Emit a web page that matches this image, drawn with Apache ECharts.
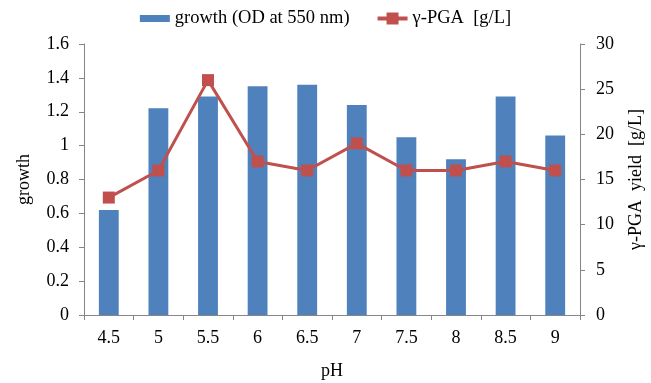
<!DOCTYPE html>
<html>
<head>
<meta charset="utf-8">
<script src="https://cdn.jsdelivr.net/npm/echarts@6/dist/echarts.min.js"></script>
<style>
  html, body { margin: 0; padding: 0; background: #fff; }
  #chart { width: 651px; height: 383px; }
</style>
</head>
<body>
<div id="chart"></div>
<script>
// pH values tested
const phLevels = ['4.5', '5', '5.5', '6', '6.5', '7', '7.5', '8', '8.5', '9'];
// cell growth, OD at 550 nm (left axis)
const growthOD = [0.62, 1.22, 1.29, 1.35, 1.36, 1.24, 1.05, 0.92, 1.29, 1.06];
// γ-PGA yield in g/L (right axis)
const pgaYield = [13, 16, 26, 17, 16, 19, 16, 16, 17, 16];

const FONT = '"Liberation Serif", "Times New Roman", serif';
const AXIS_GRAY = '#868686';
const TEXT = { fontFamily: FONT, fontSize: 18, color: '#000' };

const chart = echarts.init(document.getElementById('chart'), null, { renderer: 'canvas' });

chart.setOption({
  backgroundColor: '#fff',
  animation: false,
  legend: {
    top: 4,
    left: 'center',
    itemWidth: 30,
    itemHeight: 15,
    itemGap: 26,
    textStyle: { fontFamily: FONT, fontSize: 18.5, color: '#000' },
    data: [
      // thin bar swatch inside a taller box
      { name: 'growth (OD at 550 nm)', icon: 'path://M0,0M0,4h30v7h-30zM30,15' },
      { name: 'γ-PGA  [g/L]', lineStyle: { width: 4 } }
    ]
  },
  grid: { left: 84, right: 71, top: 44, bottom: 68, outerBoundsMode: 'none' },
  xAxis: {
    type: 'category',
    data: phLevels,
    boundaryGap: true,
    name: 'pH',
    nameLocation: 'middle',
    nameGap: 47,
    nameTextStyle: TEXT,
    axisLine: { lineStyle: { color: AXIS_GRAY, width: 1 } },
    axisTick: { show: true, length: 5, alignWithLabel: false, lineStyle: { color: AXIS_GRAY } },
    axisLabel: Object.assign({ margin: 14 }, TEXT),
    splitLine: { show: false }
  },
  yAxis: [
    {
      type: 'value',
      min: 0, max: 1.6, interval: 0.2,
      name: 'growth',
      nameLocation: 'middle',
      nameRotate: 90,
      nameGap: 51,
      nameTextStyle: TEXT,
      axisLine: { show: true, lineStyle: { color: AXIS_GRAY, width: 1 } },
      axisTick: { show: true, length: 5, lineStyle: { color: AXIS_GRAY } },
      axisLabel: Object.assign({ margin: 15 }, TEXT),
      splitLine: { show: false }
    },
    {
      type: 'value',
      min: 0, max: 30, interval: 5,
      position: 'right',
      name: 'γ-PGA  yield  [g/L]',
      nameLocation: 'middle',
      nameRotate: 90,
      nameGap: 47,
      nameTextStyle: TEXT,
      axisLine: { show: true, lineStyle: { color: AXIS_GRAY, width: 1 } },
      axisTick: { show: true, length: 5, lineStyle: { color: AXIS_GRAY } },
      axisLabel: Object.assign({ margin: 16 }, TEXT),
      splitLine: { show: false }
    }
  ],
  series: [
    {
      name: 'growth (OD at 550 nm)',
      type: 'bar',
      yAxisIndex: 0,
      data: growthOD,
      barWidth: '40%',
      itemStyle: { color: '#4F81BD' }
    },
    {
      name: 'γ-PGA  [g/L]',
      type: 'line',
      yAxisIndex: 1,
      data: pgaYield,
      symbol: 'rect',
      symbolSize: 12,
      lineStyle: { color: '#C0504D', width: 3 },
      itemStyle: { color: '#C0504D' }
    }
  ]
});
</script>
</body>
</html>
